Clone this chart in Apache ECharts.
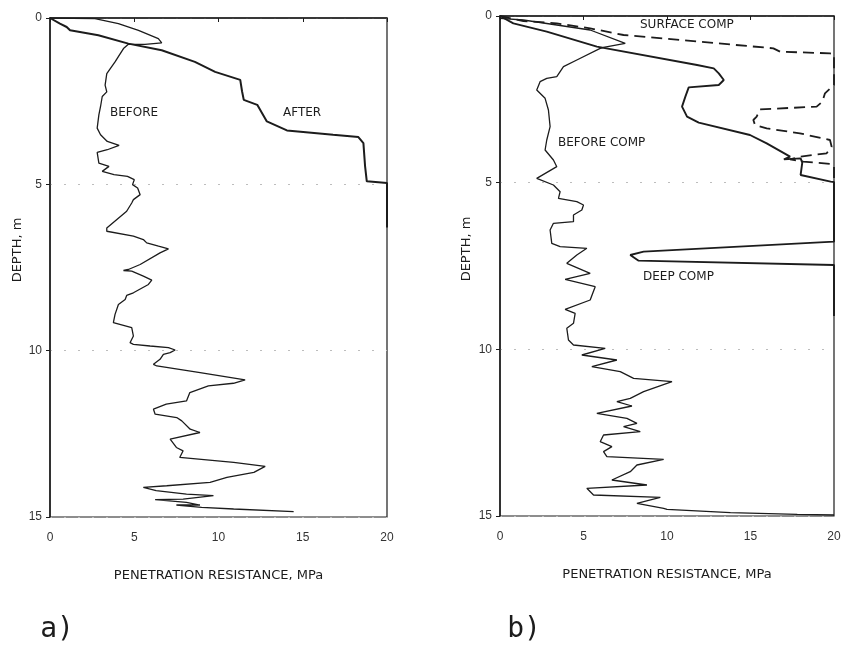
<!DOCTYPE html>
<html>
<head>
<meta charset="utf-8">
<script src="https://cdn.jsdelivr.net/npm/echarts@6/dist/echarts.min.js"></script>
<style>
  html, body { margin: 0; padding: 0; background: #fff; }
  #main { width: 845px; height: 650px; }
</style>
</head>
<body>
<div id="main"></div>
<script>
// each point is [penetration resistance MPa, depth m]
const beforeA = [
  [0, 0], [0.1, 0.02], [2.67, 0.02], [4.06, 0.17], [5.25, 0.37], [6.43, 0.62], [6.63, 0.75],
  [5.64, 0.79], [4.65, 0.79], [4.36, 0.92], [3.86, 1.32], [3.37, 1.67], [3.27, 2.02], [3.37, 2.22],
  [3.1, 2.36], [3.0, 2.66], [2.9, 2.91], [2.8, 3.31], [3.0, 3.51], [3.4, 3.71], [4.1, 3.83],
  [3.4, 3.96], [2.8, 4.04], [2.9, 4.36], [3.5, 4.46], [3.1, 4.61], [3.8, 4.71], [4.6, 4.76],
  [5.0, 4.86], [4.9, 5.01], [5.2, 5.11], [5.35, 5.31], [4.95, 5.46], [4.85, 5.56], [4.55, 5.81],
  [3.37, 6.31], [3.37, 6.41], [4.95, 6.56], [5.54, 6.66], [5.74, 6.76], [6.44, 6.86], [7.03, 6.94],
  [6.53, 7.06], [5.35, 7.41], [4.65, 7.56], [4.36, 7.59], [4.85, 7.61], [5.54, 7.76], [6.04, 7.88],
  [5.84, 8.01], [4.95, 8.26], [4.55, 8.34], [4.46, 8.46], [4.06, 8.61], [3.86, 8.91], [3.76, 9.16],
  [3.86, 9.21], [4.85, 9.31], [4.95, 9.56], [4.75, 9.76], [4.95, 9.81], [5.94, 9.86], [7.03, 9.91],
  [7.43, 9.98], [7.13, 10.06], [6.73, 10.11], [6.53, 10.26], [6.14, 10.41], [6.34, 10.46],
  [8.91, 10.66], [11.58, 10.88], [10.89, 10.98], [9.4, 11.06], [8.3, 11.26], [8.1, 11.51],
  [6.9, 11.61], [6.14, 11.76], [6.24, 11.91], [7.52, 12.01], [7.82, 12.11], [8.32, 12.36],
  [8.9, 12.46], [7.13, 12.66], [7.5, 12.91], [7.9, 13.01], [7.7, 13.21], [10.9, 13.36],
  [12.77, 13.48], [12.1, 13.66], [10.5, 13.81], [9.5, 13.96], [6.93, 14.06], [5.54, 14.11],
  [6.3, 14.21], [8.1, 14.31], [9.7, 14.36], [7.9, 14.46], [6.24, 14.48], [8.1, 14.56],
  [8.9, 14.64], [7.5, 14.64], [9.0, 14.71], [10.9, 14.76], [14.46, 14.84]
];
const afterA = [
  [0, 0], [0.1, 0.02], [0.59, 0.17], [0.99, 0.27], [1.19, 0.37], [2.87, 0.52], [4.65, 0.77],
  [6.63, 0.97], [8.6, 1.32], [9.8, 1.62], [11.29, 1.86], [11.4, 2.21], [11.5, 2.46], [12.3, 2.61],
  [12.87, 3.11], [14.06, 3.38], [16.8, 3.51], [18.3, 3.58], [18.6, 3.76], [18.7, 4.46],
  [18.8, 4.91], [20, 4.96], [20, 6.3]
];
const beforeB = [
  [0, 0], [0, 0.07], [1.4, 0.12], [3.4, 0.27], [5.4, 0.42], [7.5, 0.82], [6.2, 0.94], [6.0, 0.97],
  [4.6, 1.32], [3.8, 1.52], [3.4, 1.82], [2.8, 1.87], [2.4, 1.97], [2.2, 2.22], [2.7, 2.47],
  [2.9, 2.82], [3.0, 3.32], [2.8, 3.72], [2.7, 4.02], [3.2, 4.32], [3.4, 4.52], [2.2, 4.87],
  [3.2, 5.07], [3.6, 5.27], [3.5, 5.47], [4.6, 5.57], [5.0, 5.67], [4.9, 5.82], [4.4, 5.97],
  [4.4, 6.17], [3.2, 6.22], [3.0, 6.42], [3.1, 6.82], [3.6, 6.92], [5.2, 6.97], [4.6, 7.17],
  [4.0, 7.42], [5.4, 7.72], [3.9, 7.9], [5.7, 8.12], [5.4, 8.52], [3.9, 8.8], [4.5, 8.92],
  [4.4, 9.22], [4.0, 9.37], [4.1, 9.72], [4.4, 9.87], [6.3, 9.97], [4.9, 10.17], [7.0, 10.32],
  [5.5, 10.52], [7.2, 10.67], [8.0, 10.87], [10.3, 10.97], [10.2, 11.02], [8.6, 11.27],
  [7.8, 11.47], [7.0, 11.57], [7.9, 11.7], [5.8, 11.92], [7.6, 12.07], [8.2, 12.22], [7.4, 12.32],
  [8.4, 12.47], [6.2, 12.57], [6.0, 12.77], [6.7, 12.92], [6.2, 13.07], [6.4, 13.22], [9.8, 13.3],
  [8.2, 13.47], [7.8, 13.67], [6.7, 13.92], [8.8, 14.07], [5.2, 14.17], [5.6, 14.37],
  [9.6, 14.44], [8.2, 14.62], [9.8, 14.77], [10, 14.8], [13.8, 14.9], [17.8, 14.95], [20, 14.97]
];
const deepB = [
  [0, 0], [0.8, 0.22], [2.8, 0.47], [5.8, 0.92], [11.8, 1.47], [12.8, 1.57], [13.1, 1.72],
  [13.4, 1.92], [13.1, 2.07], [11.3, 2.14], [11.1, 2.42], [10.9, 2.72], [11.2, 3.02],
  [11.9, 3.2], [14.97, 3.57], [15.97, 3.82], [17.37, 4.22], [17.0, 4.3], [18.0, 4.27],
  [18.1, 4.4], [18.0, 4.77], [19.8, 4.97], [20, 4.98], [20, 6.77], [8.6, 7.07], [7.8, 7.17],
  [8.3, 7.34], [20, 7.47], [20, 9.0]
];
const surfaceB = [
  [0, 0], [1.4, 0.15], [3.4, 0.22], [5.4, 0.37], [7.4, 0.57], [11.9, 0.77], [16.37, 0.97],
  [16.77, 1.07], [19.76, 1.12], [20, 1.15], [20, 2.07], [19.46, 2.32], [19.3, 2.57],
  [18.96, 2.72], [15.57, 2.8], [15.37, 3.02], [15.17, 3.12], [15.27, 3.27], [15.97, 3.37],
  [17.96, 3.52], [19.76, 3.72], [19.86, 3.92], [19.56, 4.12], [17.96, 4.22], [17.37, 4.3],
  [18.16, 4.37], [19.86, 4.44], [20, 4.5], [20, 5.0]
];

const ink = '#1c1c1c';
const labelFont = 'DejaVu Sans';

const myChart = echarts.init(document.getElementById('main'), null, { renderer: 'canvas' });

// same axis setup for both panels
function makeX(gridIndex) {
  return {
    type: 'value', gridIndex: gridIndex, min: 0, max: 20, interval: 5,
    name: 'PENETRATION RESISTANCE, MPa', nameLocation: 'middle', nameGap: 52,
    nameTextStyle: { fontFamily: labelFont, fontSize: 13, color: ink },
    axisLine: { show: true, lineStyle: { color: ink, width: 1.5 } },
    axisTick: { show: true, length: 4, lineStyle: { color: ink } },
    axisLabel: { margin: 15, fontFamily: 'Liberation Sans', fontSize: 12, color: '#333' },
    splitLine: { show: false }
  };
}
function makeY(gridIndex) {
  return {
    type: 'value', gridIndex: gridIndex, min: 0, max: 15, interval: 5, inverse: true,
    axisLine: { show: true, lineStyle: { color: ink, width: 1.5 } },
    axisTick: { show: true, length: 4, lineStyle: { color: ink } },
    axisLabel: { margin: 8, fontFamily: 'Liberation Sans', fontSize: 12, color: '#333' },
    splitLine: { show: true, lineStyle: { color: '#bdbdbd', width: 1, type: [2, 12] } }
  };
}
function curve(data, xi, width, dashed) {
  return {
    type: 'line', xAxisIndex: xi, yAxisIndex: xi, data: data,
    showSymbol: false, symbol: 'none', smooth: false, silent: true,
    lineStyle: { color: ink, width: width, type: dashed ? [11, 6] : 'solid' }
  };
}
function note(text, left, top, size) {
  return {
    type: 'text', left: left, top: top, silent: true,
    style: { text: text, fill: ink, fontFamily: labelFont, fontSize: size || 12 }
  };
}

myChart.setOption({
  animation: false,
  backgroundColor: '#fff',
  grid: [
    { left: 50, top: 18, width: 337, height: 499, show: true, borderColor: ink, borderWidth: 1.2 },
    { left: 500, top: 16, width: 334, height: 500, show: true, borderColor: ink, borderWidth: 1.2 }
  ],
  xAxis: [makeX(0), makeX(1)],
  yAxis: [makeY(0), makeY(1)],
  series: [
    curve(beforeA, 0, 1.3, false),
    curve(afterA, 0, 2, false),
    curve(beforeB, 1, 1.3, false),
    curve(deepB, 1, 1.9, false),
    curve(surfaceB, 1, 1.8, true)
  ],
  graphic: [
    note('BEFORE', 110, 107),
    note('AFTER', 283, 107),
    note('SURFACE COMP', 640, 19),
    note('BEFORE COMP', 558, 137),
    note('DEEP COMP', 643, 271),
    {
      type: 'text', x: 18, y: 250, rotation: Math.PI / 2, silent: true,
      style: { text: 'DEPTH, m', fill: ink, fontFamily: labelFont, fontSize: 13, align: 'center', verticalAlign: 'middle' }
    },
    {
      type: 'text', x: 467, y: 249, rotation: Math.PI / 2, silent: true,
      style: { text: 'DEPTH, m', fill: ink, fontFamily: labelFont, fontSize: 13, align: 'center', verticalAlign: 'middle' }
    },
    {
      type: 'text', x: 57, y: 630, silent: true,
      style: { text: 'a)', fill: ink, fontFamily: 'DejaVu Sans Mono', fontSize: 28, align: 'center', verticalAlign: 'middle' }
    },
    {
      type: 'text', x: 524, y: 630, silent: true,
      style: { text: 'b)', fill: ink, fontFamily: 'DejaVu Sans Mono', fontSize: 28, align: 'center', verticalAlign: 'middle' }
    }
  ]
});
</script>
</body>
</html>
